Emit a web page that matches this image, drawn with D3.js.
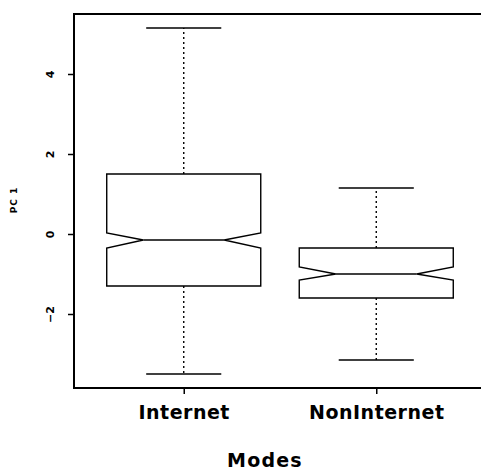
<!DOCTYPE html>
<html>
<head>
<meta charset="utf-8">
<script src="https://cdn.jsdelivr.net/npm/d3@7"></script>
<style>
  body { margin: 0; background: #fff; }
  text { font-family: "DejaVu Sans", sans-serif; font-weight: bold; fill: #000; }
</style>
</head>
<body>
<div id="chart"></div>
<script>
// box statistics
var categories = ["Internet", "NonInternet"];
var whiskerLow = [-3.5, -3.15];
var q1 = [-1.3, -1.6];
var notchLow = [-0.35, -1.15];
var medians = [-0.15, -1.0];
var notchHigh = [0.025, -0.825];
var q3 = [1.5, -0.35];
var whiskerHigh = [5.15, 1.15];
var yTicks = [-2, 0, 2, 4];

var svgWidth = 481
var svgHeight = 474

var svg = d3.select('#chart')
    .append('svg')
    .attr('width', svgWidth)
    .attr('height', svgHeight)

var x = d3.scaleLinear().domain([0.43, 2.57]).range([74, 486])
var y = d3.scaleLinear().domain([-3.85, 5.5]).range([388, 14])

var boxHalf = 0.4, notchHalf = 0.21, capHalf = 0.195

var boxes = categories.map(function(c, i) {
    return {
        pos: i + 1, lo: whiskerLow[i], q1: q1[i], nlo: notchLow[i],
        med: medians[i], nhi: notchHigh[i], q3: q3[i], hi: whiskerHigh[i]
    }
})

var g = svg.selectAll('g.box')
    .data(boxes)
    .enter()
    .append('g')
    .classed('box', true)

// dotted whiskers
g.append('line')
    .attr('x1', function(d) { return x(d.pos) })
    .attr('x2', function(d) { return x(d.pos) })
    .attr('y1', function(d) { return y(d.q3) })
    .attr('y2', function(d) { return y(d.hi) })
    .attr('stroke', '#000').attr('stroke-width', 1.4).attr('stroke-dasharray', '2,3')
g.append('line')
    .attr('x1', function(d) { return x(d.pos) })
    .attr('x2', function(d) { return x(d.pos) })
    .attr('y1', function(d) { return y(d.q1) })
    .attr('y2', function(d) { return y(d.lo) })
    .attr('stroke', '#000').attr('stroke-width', 1.4).attr('stroke-dasharray', '2,3')

// caps
;['lo', 'hi'].forEach(function(k) {
    g.append('line')
        .attr('x1', function(d) { return x(d.pos - capHalf) })
        .attr('x2', function(d) { return x(d.pos + capHalf) })
        .attr('y1', function(d) { return y(d[k]) })
        .attr('y2', function(d) { return y(d[k]) })
        .attr('stroke', '#000').attr('stroke-width', 1.5)
})

// notched box
g.append('path')
    .attr('d', function(d) {
        var l = x(d.pos - boxHalf), r = x(d.pos + boxHalf)
        var nl = x(d.pos - notchHalf), nr = x(d.pos + notchHalf)
        return 'M' + l + ',' + y(d.q3) +
            'L' + l + ',' + y(d.nhi) +
            'L' + nl + ',' + y(d.med) +
            'L' + l + ',' + y(d.nlo) +
            'L' + l + ',' + y(d.q1) +
            'L' + r + ',' + y(d.q1) +
            'L' + r + ',' + y(d.nlo) +
            'L' + nr + ',' + y(d.med) +
            'L' + r + ',' + y(d.nhi) +
            'L' + r + ',' + y(d.q3) + 'Z'
    })
    .attr('fill', 'none').attr('stroke', '#000').attr('stroke-width', 1.4)

// median
g.append('line')
    .attr('x1', function(d) { return x(d.pos - notchHalf) })
    .attr('x2', function(d) { return x(d.pos + notchHalf) })
    .attr('y1', function(d) { return y(d.med) })
    .attr('y2', function(d) { return y(d.med) })
    .attr('stroke', '#000').attr('stroke-width', 1.6)

// frame
svg.append('rect')
    .attr('x', x(0.43)).attr('y', y(5.5))
    .attr('width', x(2.57) - x(0.43)).attr('height', y(-3.85) - y(5.5))
    .attr('fill', 'none').attr('stroke', '#000').attr('stroke-width', 2)

// y axis
var yAxis = svg.append('g')
    .attr('transform', 'translate(74,0)')
    .call(d3.axisLeft(y).tickValues(yTicks).tickSize(6).tickFormat(d3.format('d')))
yAxis.select('.domain').remove()
yAxis.selectAll('line').attr('stroke-width', 1.5)
yAxis.selectAll('text')
    .attr('x', 0).attr('dy', '0.35em')
    .attr('transform', 'translate(-24,0) rotate(-90)')
    .attr('text-anchor', 'middle')
    .style('font-size', '11px')
    .style('font-family', '"DejaVu Sans", sans-serif')
    .style('font-weight', 'bold')

// x axis
var xAxis = svg.append('g')
    .attr('transform', 'translate(0,388)')
    .call(d3.axisBottom(x).tickValues([1, 2]).tickSize(6)
        .tickFormat(function(d) { return categories[d - 1] }))
xAxis.select('.domain').remove()
xAxis.selectAll('line').attr('stroke-width', 1.5)
xAxis.selectAll('text')
    .attr('y', 31).attr('dy', 0)
    .style('font-size', '19px')
    .style('letter-spacing', '0.5px')
    .style('font-family', '"DejaVu Sans", sans-serif')
    .style('font-weight', 'bold')

// axis titles
svg.append('text')
    .attr('x', 265).attr('y', 467)
    .attr('text-anchor', 'middle')
    .style('font-size', '19px')
    .style('letter-spacing', '1.2px')
    .text('Modes')

svg.append('text')
    .attr('transform', 'translate(17,200) rotate(-90)')
    .attr('text-anchor', 'middle')
    .style('font-size', '9px')
    .style('letter-spacing', '1px')
    .text('PC 1')
</script>
</body>
</html>
